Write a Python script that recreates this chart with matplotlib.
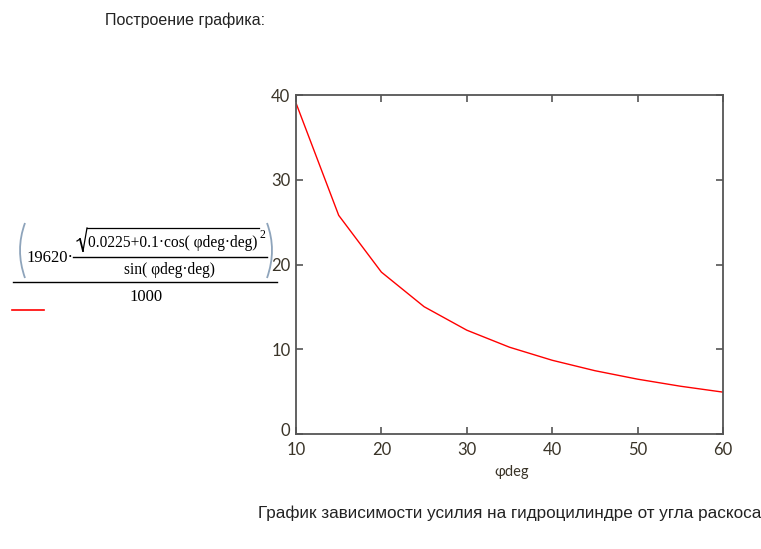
import matplotlib
matplotlib.use('Agg')
from matplotlib import pyplot as plt
from matplotlib.path import Path
from matplotlib.patches import PathPatch
import matplotlib.transforms as mtransforms

# значения угла (град) и усилия (кН)
phi_deg = [10, 15, 20, 25, 30, 35, 40, 45, 50, 55, 60]
sila_kn = [39.05, 25.80, 19.10, 15.02, 12.25, 10.24, 8.70, 7.47, 6.47, 5.64, 4.94]

x_ticks = [10, 20, 30, 40, 50, 60]
y_ticks = [0, 10, 20, 30, 40]

W, H = 761, 549
fig = plt.figure(figsize=(W / 100, H / 100), dpi=100)
px = fig.dpi_scale_trans  # координаты в дюймах


def pt(x, y):
    # пиксели от левого верхнего угла -> дюймы
    return x / 100, (H - y) / 100


ax = fig.add_axes([296 / W, 1 - 434 / H, 427 / W, 339 / H])
ax.plot(phi_deg, sila_kn, color='red', linewidth=1.0)
ax.set_xlim(10, 60)
ax.set_ylim(0, 40)
ax.set_xticks(x_ticks)
ax.set_yticks(y_ticks)

for s in ax.spines.values():
    s.set_color('#555555')
    s.set_linewidth(1.3)
ax.tick_params(direction='in', length=5, width=1.2, color='#555555',
               top=True, right=True, labelsize=12, labelcolor='#3a3428')
ax.tick_params(axis='x', pad=6)
ax.tick_params(axis='y', pad=4)
for lbl in ax.get_xticklabels() + ax.get_yticklabels():
    lbl.set_fontfamily('Lato')
# ноль по оси Y чуть выше, как в Mathcad
y0 = ax.get_yticklabels()[0]
y0.set_transform(y0.get_transform() + mtransforms.ScaledTranslation(0, 5 / 100, fig.dpi_scale_trans))

fig.text(*pt(512, 472), 'φdeg', transform=px, fontfamily='Lato', fontsize=10.5,
         color='#3a3428', ha='center', va='center')

fig.text(*pt(105, 20), 'Построение графика:', transform=px, fontfamily='Liberation Sans',
         fontsize=11.5, color='#222222', va='center')
fig.text(*pt(258, 513), 'График зависимости усилия на гидроцилиндре от угла раскоса',
         transform=px, fontfamily='Liberation Sans', fontsize=12.3, color='#222222', va='center')

# формула в легенде
ser = dict(transform=px, fontfamily='Liberation Serif', color='black', va='center')
fig.text(*pt(26, 258), '19620·', ha='left', fontsize=12, **ser)
fig.text(*pt(88, 243), '0.0225+0.1·cos( φdeg·deg)', ha='left', fontsize=11.2, **ser)
fig.text(*pt(260, 235), '2', ha='left', fontsize=8.5, **ser)
fig.text(*pt(169, 270), 'sin( φdeg·deg)', ha='center', fontsize=11.2, **ser)
fig.text(*pt(146, 297), '1000', ha='center', fontsize=12, **ser)


def linia(x0, y0_, x1, y1, **kw):
    fig.add_artist(plt.Line2D([x0 / 100, x1 / 100], [(H - y0_) / 100, (H - y1) / 100],
                              transform=px, **kw))


linia(73, 257, 267, 257, color='black', linewidth=1.0)
linia(13, 282, 277, 282, color='black', linewidth=1.0)
# знак корня
linia(77, 241, 80, 239, color='black', linewidth=0.9)
linia(80, 239, 83, 251, color='black', linewidth=1.3)
linia(83, 251, 87, 228, color='black', linewidth=0.9)
linia(87, 228, 259, 228, color='black', linewidth=0.9)

# скобки
for x_край, x_изгиб in [(25, 15), (267, 277)]:
    p = Path([pt(x_край, 223), pt(x_изгиб, 250), pt(x_край, 278)],
             [Path.MOVETO, Path.CURVE3, Path.CURVE3])
    fig.add_artist(PathPatch(p, transform=px, facecolor='none', edgecolor='#8ea4bb', linewidth=1.3))

linia(12, 310, 44, 310, color='red', linewidth=1.2)

fig.savefig('out.png', dpi=100)
